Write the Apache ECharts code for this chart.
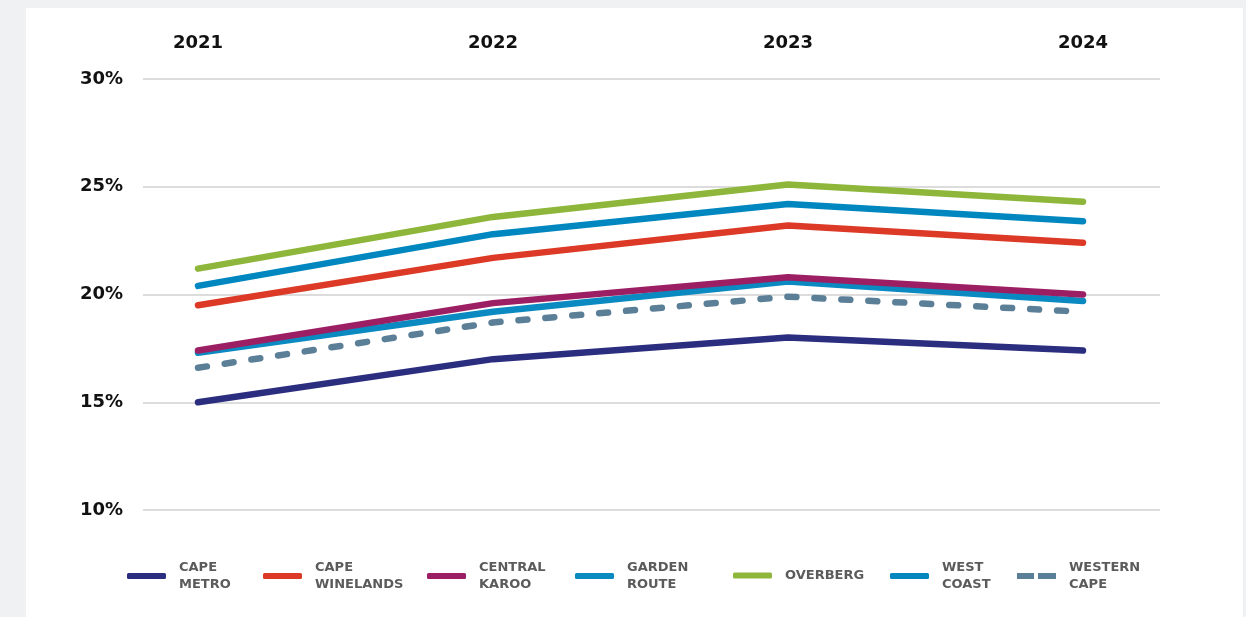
<!DOCTYPE html>
<html><head><meta charset="utf-8">
<script src="https://cdn.jsdelivr.net/npm/echarts@6/dist/echarts.min.js"></script>
<style>
html,body{margin:0;padding:0;background:#f0f1f3;width:1246px;height:617px;overflow:hidden}
#panel{position:absolute;left:26px;top:8px;width:1217px;height:609px;background:#fff}
#chart{position:absolute;left:0;top:0;width:1246px;height:617px}
</style></head>
<body><div id="panel"></div><div id="chart"></div>
<script>
const years = ['2021', '2022', '2023', '2024'];
const yMin = 10, yMax = 30, yStep = 5;

const capeMetro     = [15.0, 17.0, 18.0, 17.4];
const capeWinelands = [19.5, 21.7, 23.2, 22.4];
const centralKaroo  = [17.4, 19.6, 20.8, 20.0];
const gardenRoute   = [17.3, 19.2, 20.6, 19.7];
const overberg      = [21.2, 23.6, 25.1, 24.3];
const westCoast     = [20.4, 22.8, 24.2, 23.4];
const westernCape   = [16.6, 18.7, 19.9, 19.2];

const seriesNames  = ['Cape Metro', 'Cape Winelands', 'Central Karoo', 'Garden Route', 'Overberg', 'West Coast', 'Western Cape'];
const legendLabels = ['CAPE\nMETRO', 'CAPE\nWINELANDS', 'CENTRAL\nKAROO', 'GARDEN\nROUTE', 'OVERBERG', 'WEST\nCOAST', 'WESTERN\nCAPE'];
const seriesData   = [capeMetro, capeWinelands, centralKaroo, gardenRoute, overberg, westCoast, westernCape];
const colors = ['#2b2d7f', '#dc3a26', '#9c1f64', '#0a8ac1', '#8db63a', '#0087bf', '#5c7f98'];
const legendLeft = [127, 263, 427, 575, 733, 890, 1017];

const FONT = '"DejaVu Sans", sans-serif';
const chart = echarts.init(document.getElementById('chart'));

const series = seriesNames.map((n, i) => ({
  name: n,
  type: 'line',
  xAxisIndex: 0,
  yAxisIndex: 0,
  data: seriesData[i],
  symbol: 'none',
  smooth: false,
  z: n === 'Central Karoo' ? 4 : 3,
  lineStyle: {
    color: colors[i],
    width: 6.5,
    cap: 'round',
    join: 'round',
    type: n === 'Western Cape' ? [9, 18] : 'solid'
  },
  itemStyle: { color: colors[i] }
}));

const legends = seriesNames.map((n, i) => ({
  data: [n],
  left: legendLeft[i],
  top: legendLabels[i].indexOf('\n') >= 0 ? 559 : 567,
  padding: 0,
  itemWidth: 39,
  itemHeight: 6,
  icon: n === 'Western Cape' ? 'path://M0,0 L17,0 L17,6 L0,6 Z M21,0 L39,0 L39,6 L21,6 Z' : 'roundRect',
  itemStyle: { color: colors[i], borderRadius: 3 },
  selectedMode: false,
  formatter: () => legendLabels[i],
  textStyle: {
    fontFamily: FONT, fontSize: 13, fontWeight: 'bold', color: '#5b5b5b',
    lineHeight: 17, padding: [0, 0, 0, 8]
  }
}));

chart.setOption({
  animation: false,
  legend: legends,
  grid: [
    { left: 198, right: 163, top: 79, bottom: 107 },
    { left: 143, right: 86, top: 79, bottom: 107 }
  ],
  xAxis: [
    {
      gridIndex: 0, type: 'category', data: years, position: 'top', boundaryGap: false,
      axisLine: { show: false }, axisTick: { show: false }, splitLine: { show: false },
      axisLabel: { fontFamily: FONT, fontSize: 18, fontWeight: 'bold', color: '#111', margin: 27 }
    },
    {
      gridIndex: 1, type: 'category', data: years, show: false
    }
  ],
  yAxis: [
    { gridIndex: 0, type: 'value', min: yMin, max: yMax, interval: yStep, show: false },
    {
      gridIndex: 1, type: 'value', min: yMin, max: yMax, interval: yStep,
      axisLine: { show: false }, axisTick: { show: false },
      splitLine: { lineStyle: { color: '#dcdcdc', width: 2 } },
      axisLabel: { formatter: '{value}%', fontFamily: FONT, fontSize: 18, fontWeight: 'bold', color: '#111', margin: 20 }
    }
  ],
  series: series
});
</script>
</body></html>
